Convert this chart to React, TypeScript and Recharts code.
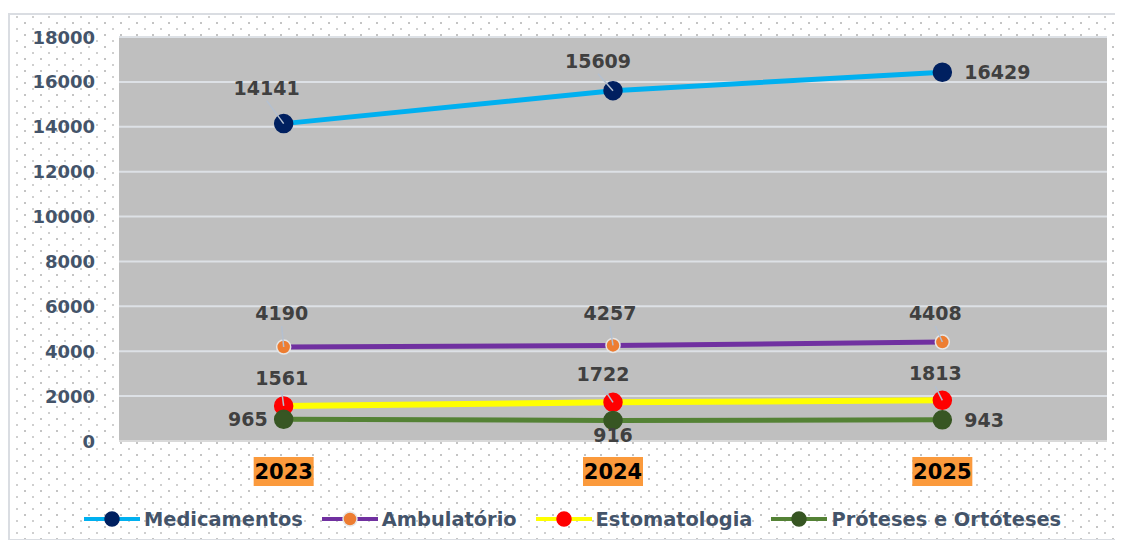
import { LineChart, Line, XAxis, YAxis, CartesianGrid, Legend } from 'recharts';

const years = ['2023', '2024', '2025'];
const medicamentos = [14141, 15609, 16429];
const ambulatorio = [4190, 4257, 4408];
const estomatologia = [1561, 1722, 1813];
const proteses = [965, 916, 943];
const yTicks = [0, 2000, 4000, 6000, 8000, 10000, 12000, 14000, 16000, 18000];

const chartData = years.map((year, i) => ({
  year,
  med: medicamentos[i],
  amb: ambulatorio[i],
  est: estomatologia[i],
  pro: proteses[i],
}));

const FONT = '"DejaVu Sans", Verdana, sans-serif';

// label placement per point: [dx, dy, anchor, leader]
type Place = [number, number, 'start' | 'middle' | 'end', boolean];

const series: {
  key: string;
  name: string;
  line: string;
  dot: string;
  ring: string;
  r: number;
  width: number;
  places: Place[];
}[] = [
  {
    key: 'med', name: 'Medicamentos', line: '#00b0f0', dot: '#002060', ring: '#002060', r: 9, width: 5,
    places: [[-17, -36, 'middle', true], [-15, -30, 'middle', true], [22, 0, 'start', false]],
  },
  {
    key: 'amb', name: 'Ambulatório', line: '#7030a0', dot: '#ed7d31', ring: '#e6e6e6', r: 7, width: 5,
    places: [[-2, -34, 'middle', true], [-3, -32, 'middle', true], [-7, -29, 'middle', true]],
  },
  {
    key: 'est', name: 'Estomatologia', line: '#ffff00', dot: '#ff0000', ring: '#ff0000', r: 9, width: 6,
    places: [[-2, -28, 'middle', true], [-10, -28, 'middle', true], [-7, -27, 'middle', true]],
  },
  {
    key: 'pro', name: 'Próteses e Ortóteses', line: '#548235', dot: '#375623', ring: '#375623', r: 9, width: 5,
    places: [[-16, 0, 'end', false], [0, 15, 'middle', false], [22, 0, 'start', false]],
  },
];

const YTick = ({ x, y, payload }: any) => (
  <text x={x - 24} y={y} textAnchor="end" dominantBaseline="central"
    fontFamily={FONT} fontWeight={700} fontSize={18} fill="#44546a">
    {payload.value}
  </text>
);

const XTick = ({ x, y, payload }: any) => (
  <g>
    <rect x={x - 30} y={y + 16} width={60} height={29} fill="#fb9a3c" />
    <text x={x} y={y + 31} textAnchor="middle" dominantBaseline="central"
      fontFamily={FONT} fontWeight={700} fontSize={21} fill="#000">
      {payload.value}
    </text>
  </g>
);

const makeLabel = (places: Place[]) => (props: any) => {
  const { x, y, value, index } = props;
  const [dx, dy, anchor, leader] = places[index];
  return (
    <g>
      {leader && (
        <line x1={x + dx} y1={y + dy + 13} x2={x} y2={y} stroke="#b4c0d0" strokeWidth={1.5} />
      )}
      <text x={x + dx} y={y + dy} textAnchor={anchor} dominantBaseline="central"
        fontFamily={FONT} fontWeight={700} fontSize={19} fill="#404040">
        {value}
      </text>
    </g>
  );
};

const LegendContent = () => (
  <div style={{
    display: 'flex', alignItems: 'center', paddingLeft: 74, height: 36,
    fontFamily: FONT, fontWeight: 700, fontSize: 19.4, color: '#44546a',
  }}>
    {series.map((s) => (
      <div key={s.key} style={{ display: 'flex', alignItems: 'center', marginRight: 19 }}>
        <svg width={56} height={20}>
          <line x1={0} y1={10} x2={56} y2={10} stroke={s.line} strokeWidth={4} />
          <circle cx={28} cy={10} r={7} fill={s.dot} stroke={s.ring} strokeWidth={1.5} />
        </svg>
        <span style={{ marginLeft: 4, whiteSpace: 'nowrap' }}>{s.name}</span>
      </div>
    ))}
  </div>
);

const dots = [
  'radial-gradient(circle, #c4c4c4 0.8px, transparent 1.2px)',
  'radial-gradient(circle, #cfcfcf 0.8px, transparent 1.2px)',
].join(', ');

export default function App() {
  return (
    <div style={{ paddingTop: 5 }}>
      <div style={{
        width: 1108, height: 524, border: '2px solid #dadde2', background: '#fff',
        backgroundImage: dots, backgroundSize: '16px 12px, 16px 12px',
        backgroundPosition: '7px 2px, 15px 8px',
      }}>
        <LineChart width={1108} height={522} data={chartData}
          margin={{ top: 22, right: 11, bottom: 0, left: 0 }}>
          <CartesianGrid vertical={false} fill="#bfbfbf" stroke="#dde1e6" strokeWidth={2} />
          <XAxis dataKey="year" scale="band" height={60} tickSize={0} tickMargin={0}
            tickLine={false} axisLine={{ stroke: '#d9d9d9', strokeWidth: 2 }} tick={<XTick />} />
          <YAxis width={109} domain={[0, 18000]} ticks={yTicks} tickSize={0} tickMargin={0}
            tickLine={false} axisLine={false} tick={<YTick />} interval={0} />
          <Legend verticalAlign="bottom" height={36} content={<LegendContent />}
            wrapperStyle={{ left: 0, width: 1108 }} />
          {series.map((s) => (
            <Line key={s.key} type="linear" dataKey={s.key} name={s.name} stroke={s.line}
              strokeWidth={s.width} isAnimationActive={false}
              dot={{ r: s.r, fill: s.dot, stroke: s.ring, strokeWidth: 1.5 }}
              activeDot={false} label={makeLabel(s.places)} />
          ))}
        </LineChart>
      </div>
    </div>
  );
}
